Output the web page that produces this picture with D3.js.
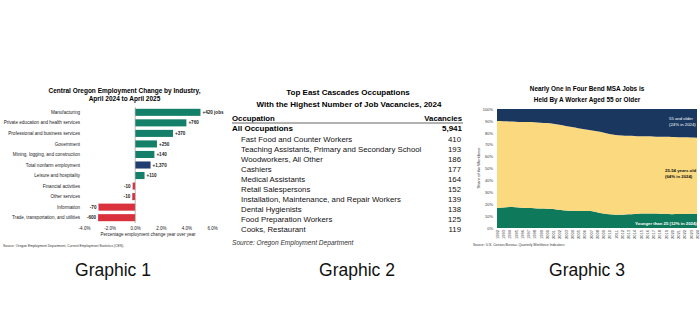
<!DOCTYPE html>
<html><head><meta charset="utf-8">
<script src="https://cdn.jsdelivr.net/npm/d3@7"></script>
<style>
html,body{margin:0;padding:0;background:#fff;}
svg{display:block;}
text{font-family:"Liberation Sans",Arial,sans-serif;}
</style></head>
<body>
<svg id="chart" width="700" height="335"></svg>
<script>
// ---------- Graphic 1 data ----------
const g1Categories = ["Manufacturing","Private education and health services","Professional and business services","Government","Mining, logging, and construction","Total nonfarm employment","Leisure and hospitality","Financial activities","Other services","Information","Trade, transportation, and utilities"];
const g1Values = [5.1, 4.0, 2.95, 1.7, 1.5, 1.2, 0.73, -0.2, -0.23, -2.87, -2.9];
const g1Labels = ["+420 jobs","+760","+370","+250","+140","+1,370","+110","-10","-10","-70","-600"];
const g1Ticks = [-4, -2, 0, 2, 4, 6];

// ---------- Graphic 2 data ----------
const g2Occupations = ["Fast Food and Counter Workers","Teaching Assistants, Primary and Secondary School","Woodworkers, All Other","Cashiers","Medical Assistants","Retail Salespersons","Installation, Maintenance, and Repair Workers","Dental Hygienists","Food Preparation Workers","Cooks, Restaurant"];
const g2Vacancies = [410, 193, 186, 177, 164, 152, 139, 138, 125, 119];
const g2Total = 5941;

// ---------- Graphic 3 data ----------
const g3Years = [1992,1993,1994,1995,1996,1997,1998,1999,2000,2001,2002,2003,2004,2005,2006,2007,2008,2009,2010,2011,2012,2013,2014,2015,2016,2017,2018,2019,2020,2021,2022,2023,2024];
const g3Under25 = [16.8,17.2,17.6,17.4,17.0,16.8,16.6,16.3,16.2,16.0,15.3,14.7,14.4,14.3,14.3,14.2,13.3,12.2,11.5,11.2,11.2,11.5,11.8,12.1,12.2,12.1,12.0,12.0,11.6,11.8,11.8,11.9,12.0];
const g3Age25to54 = [73.1,72.5,71.9,71.9,72.1,72.2,72.2,72.2,72.0,71.7,71.5,71.1,70.4,69.5,68.7,68.0,67.9,68.0,67.5,67.0,66.6,66.1,65.6,65.1,64.9,64.8,64.7,64.6,64.9,64.5,64.4,64.1,63.9];
const g3Age55plus = [10.1,10.3,10.5,10.7,10.9,11.0,11.2,11.5,11.8,12.3,13.2,14.2,15.2,16.2,17.0,17.8,18.8,19.8,21.0,21.8,22.2,22.4,22.6,22.8,22.9,23.1,23.3,23.4,23.5,23.7,23.8,24.0,24.1];
const g3Ticks = [0,10,20,30,40,50,60,70,80,90,100];

const captions = ["Graphic 1","Graphic 2","Graphic 3"];

const svg = d3.select("#chart");
svg.append("rect").attr("width",700).attr("height",335).attr("fill","#fff");

// ================= Graphic 1 =================
(function(){
  const g = svg.append("g");
  const x = d3.scaleLinear().domain([-4, 6]).range([84, 212]);
  const y = d3.scaleBand().domain(g1Categories).range([107, 223]).paddingInner(0.33).paddingOuter(0.17);
  g.append("text").attr("x",124.5).attr("y",93).attr("text-anchor","middle")
    .attr("font-size",6.5).attr("font-weight","bold").text("Central Oregon Employment Change by Industry,");
  g.append("text").attr("x",124.5).attr("y",100.5).attr("text-anchor","middle")
    .attr("font-size",6.5).attr("font-weight","bold").text("April 2024 to April 2025");
  const colorFor = (c, v) => c === "Total nonfarm employment" ? "#1f3d6e" : (v < 0 ? "#d9323c" : "#14806a");
  g.selectAll("rect.bar").data(g1Categories).join("rect").attr("class","bar")
    .attr("x",(c,i)=>Math.min(x(0), x(g1Values[i])))
    .attr("width",(c,i)=>Math.abs(x(g1Values[i]) - x(0)))
    .attr("y",c=>y(c)).attr("height",y.bandwidth())
    .attr("fill",(c,i)=>colorFor(c,g1Values[i]));
  g.append("line").attr("x1",x(0)).attr("x2",x(0)).attr("y1",107).attr("y2",223)
    .attr("stroke","#888").attr("stroke-width",0.6);
  g.selectAll("text.cat").data(g1Categories).join("text").attr("class","cat")
    .attr("x",80).attr("y",c=>y(c)+y.bandwidth()/2+1.6).attr("text-anchor","end")
    .attr("font-size",4.6).attr("fill","#222").text(c=>c);
  g.selectAll("text.val").data(g1Categories).join("text").attr("class","val")
    .attr("x",(c,i)=> g1Values[i] >= 0 ? x(g1Values[i]) + 2 : x(g1Values[i]) - 2)
    .attr("text-anchor",(c,i)=> g1Values[i] >= 0 ? "start" : "end")
    .attr("y",c=>y(c)+y.bandwidth()/2+1.6)
    .attr("font-size",4.6).attr("font-weight","bold").attr("fill","#222").text((c,i)=>g1Labels[i]);
  const ax = g.append("g").attr("transform","translate(0,224)")
    .call(d3.axisBottom(x).tickValues(g1Ticks).tickSize(0).tickPadding(3).tickFormat(d=>d.toFixed(1)+"%"));
  ax.select(".domain").remove();
  ax.selectAll("text").attr("font-size",4.5).attr("fill","#222").attr("font-family","Liberation Sans, Arial, sans-serif");
  g.append("text").attr("x",x(1)).attr("y",236).attr("text-anchor","middle").attr("font-size",4.5).attr("fill","#222")
    .text("Percentage employment change year over year");
  g.append("text").attr("x",3).attr("y",247).attr("font-size",3.4).attr("fill","#333")
    .text("Source: Oregon Employment Department, Current Employment Statistics (CES).");
})();

// ================= Graphic 2 =================
(function(){
  const g = svg.append("g");
  const left = 232, indent = 241, right = 462;
  g.append("text").attr("x",348).attr("y",95).attr("text-anchor","middle").attr("font-size",8).attr("font-weight","bold")
    .text("Top East Cascades Occupations");
  g.append("text").attr("x",349).attr("y",106.5).attr("text-anchor","middle").attr("font-size",8).attr("font-weight","bold")
    .text("With the Highest Number of Job Vacancies, 2024");
  g.append("text").attr("x",left).attr("y",121).attr("font-size",7.8).attr("font-weight","bold").text("Occupation");
  g.append("text").attr("x",right).attr("y",121).attr("text-anchor","end").attr("font-size",7.8).attr("font-weight","bold").text("Vacancies");
  g.append("line").attr("x1",left).attr("x2",right+1).attr("y1",123).attr("y2",123).attr("stroke","#999").attr("stroke-width",1.6);
  g.append("text").attr("x",left).attr("y",131).attr("font-size",8).attr("font-weight","bold").text("All Occupations");
  g.append("text").attr("x",right).attr("y",131).attr("text-anchor","end").attr("font-size",8).attr("font-weight","bold").text(d3.format(",")(g2Total));
  const y = d3.scalePoint().domain(g2Occupations).range([142, 232]);
  g.selectAll("text.occ").data(g2Occupations).join("text").attr("class","occ")
    .attr("x",indent).attr("y",d=>y(d)).attr("font-size",7.8).attr("fill","#111").text(d=>d);
  g.selectAll("text.vac").data(g2Occupations).join("text").attr("class","vac")
    .attr("x",right-1).attr("y",d=>y(d)).attr("text-anchor","end").attr("font-size",7.8).attr("fill","#111")
    .text((d,i)=>g2Vacancies[i]);
  g.append("text").attr("x",left).attr("y",244.5).attr("font-size",6.6).attr("font-style","italic").attr("fill","#333")
    .text("Source: Oregon Employment Department");
})();

// ================= Graphic 3 =================
(function(){
  const g = svg.append("g");
  const x = d3.scalePoint().domain(g3Years).range([497, 697]);
  const y = d3.scaleLinear().domain([0, 100]).range([228, 109]);
  g.append("text").attr("x",587).attr("y",90.5).attr("text-anchor","middle").attr("font-size",6.4).attr("font-weight","bold")
    .text("Nearly One in Four Bend MSA Jobs is");
  g.append("text").attr("x",587).attr("y",101.5).attr("text-anchor","middle").attr("font-size",6.4).attr("font-weight","bold")
    .text("Held By A Worker Aged 55 or Older");
  const rows = g3Years.map((yr,i)=>({year:yr, u25:g3Under25[i], mid:g3Age25to54[i], o55:g3Age55plus[i]}));
  const keys = ["u25","mid","o55"];
  const colors = {u25:"#0e7a5b", mid:"#fbd97f", o55:"#1a3760"};
  const stack = d3.stack().keys(keys)(rows);
  const area = d3.area().x(d=>x(d.data.year)).y0(d=>y(d[0])).y1(d=>y(Math.min(100,d[1]))).curve(d3.curveMonotoneX);
  g.selectAll("path.layer").data(stack).join("path").attr("class","layer")
    .attr("d",(s)=> s.key === "o55"
      ? d3.area().x(d=>x(d.data.year)).y0(d=>y(d[0])).y1(y(100)).curve(d3.curveMonotoneX)(s)
      : area(s))
    .attr("fill",s=>colors[s.key]);
  const ay = g.append("g").attr("transform","translate(497,0)")
    .call(d3.axisLeft(y).tickValues(g3Ticks).tickSize(0).tickPadding(4).tickFormat(d=>d+"%"));
  ay.select(".domain").remove();
  ay.selectAll("text").attr("font-size",4).attr("fill","#333").attr("font-family","Liberation Sans, Arial, sans-serif");
  const ax = g.append("g").attr("transform","translate(0,228)")
    .call(d3.axisBottom(x).tickSize(0).tickFormat(d=>String(d)));
  ax.select(".domain").remove();
  ax.selectAll("text").attr("font-size",4).attr("fill","#333").attr("font-family","Liberation Sans, Arial, sans-serif")
    .attr("transform","rotate(-90)").attr("text-anchor","end").attr("x",-2).attr("y",0).attr("dy","0.35em");
  g.append("text").attr("transform","translate(480,168) rotate(-90)").attr("text-anchor","middle")
    .attr("font-size",4).attr("fill","#333").text("Share of the Workforce");
  g.append("text").attr("x",669).attr("y",119.5).attr("font-size",4.3).attr("fill","#fff").text("55 and older");
  g.append("text").attr("x",669).attr("y",125.5).attr("font-size",4.3).attr("fill","#fff").text("(24% in 2024)");
  g.append("text").attr("x",665).attr("y",171.5).attr("font-size",4.3).attr("font-weight","bold").attr("fill","#111").text("25-54 years old");
  g.append("text").attr("x",665).attr("y",177.5).attr("font-size",4.3).attr("font-weight","bold").attr("fill","#111").text("(64% in 2024)");
  g.append("text").attr("x",635).attr("y",224.5).attr("font-size",4.3).attr("font-weight","bold").attr("fill","#fff").text("Younger than 25 (12% in 2024)");
  g.append("text").attr("x",473).attr("y",246).attr("font-size",3.4).attr("fill","#333")
    .text("Source: U.S. Census Bureau, Quarterly Workforce Indicators");
})();

// ================= Captions =================
const capX = d3.scalePoint().domain(captions).range([113, 587]);
svg.selectAll("text.cap").data(captions).join("text").attr("class","cap")
  .attr("x",(d,i)=> i===1 ? 357 : capX(d)).attr("y",276).attr("text-anchor","middle")
  .attr("font-family","'Open Sans', Lato, sans-serif").attr("font-weight",500).attr("font-size",17.5).attr("fill","#111").text(d=>d);
</script>
</body></html>
